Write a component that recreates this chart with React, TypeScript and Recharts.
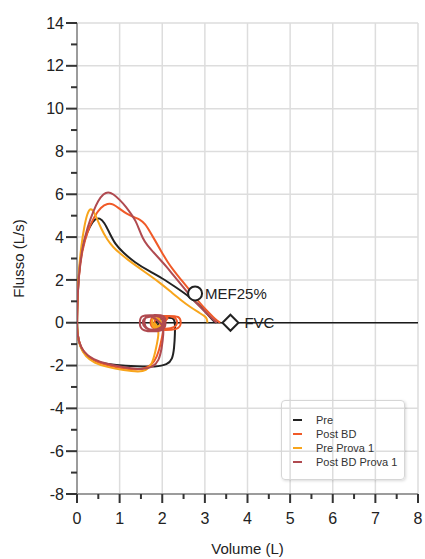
import React from 'react';
import {
  ScatterChart,
  Scatter,
  XAxis,
  YAxis,
  CartesianGrid,
  ReferenceLine,
  ReferenceDot,
  Legend,
} from 'recharts';

const X_TICKS = [0, 0.5, 1, 1.5, 2, 2.5, 3, 3.5, 4, 4.5, 5, 5.5, 6, 6.5, 7, 7.5, 8];
const Y_TICKS = [-8, -7, -6, -5, -4, -3, -2, -1, 0, 1, 2, 3, 4, 5, 6, 7, 8, 9, 10, 11, 12, 13, 14];
const X_GRID = [1, 2, 3, 4, 5, 6, 7, 8];
const Y_GRID = [-8, -6, -4, -2, 0, 2, 4, 6, 8, 10, 12, 14];

const SERIES_NAMES = ['Pre', 'Post BD', 'Pre Prova 1', 'Post BD Prova 1'];
const SERIES_COLORS = ['#222222', '#f05a28', '#f8a51c', '#b04a50'];

const PRE: [number, number][] = [
  [1.85, 0], [1.85, 0.09], [1.93, 0.09], [1.93, -0.09], [1.85, -0.09], [1.85, 0], [1.9, 0.1],
  [2.05, 0.24], [2.25, 0.24], [2.3, 0.1], [2.3, -0.5], [2.28, -1.2], [2.24, -1.7], [2.12, -1.96],
  [1.85, -2.06], [1.4, -2.04], [0.9, -1.98], [0.55, -1.88], [0.3, -1.68], [0.13, -1.35],
  [0.04, -0.9], [0.01, -0.4], [0, 0], [0.01, 1.0], [0.04, 2.3], [0.1, 3.3], [0.2, 4.05],
  [0.3, 4.5], [0.42, 4.86], [0.53, 4.9], [0.64, 4.7], [0.76, 4.2], [0.9, 3.65], [1.08, 3.28],
  [1.35, 2.82], [1.7, 2.4], [2.0, 2.08], [2.3, 1.68], [2.6, 1.27], [2.85, 0.86], [3.04, 0.45],
  [3.17, 0.15], [3.26, 0],
];

const POST_BD: [number, number][] = [
  [2.1, 0.32], [2.42, 0.32], [2.44, 0.0], [2.42, -0.36], [1.74, -0.36], [1.72, 0.0], [1.74, 0.32],
  [2.1, 0.32], [2.36, 0.27], [2.37, -0.3], [1.8, -0.3], [1.79, 0.27], [2.2, 0.27], [2.05, 0.1],
  [2.04, -0.2], [2.0, -0.65], [1.93, -1.28], [1.82, -1.85], [1.65, -2.12], [1.4, -2.22],
  [1.0, -2.12], [0.6, -1.95], [0.32, -1.68], [0.12, -1.3], [0.03, -0.8], [0, -0.3], [0, 0],
  [0.01, 1.0], [0.04, 2.2], [0.12, 3.4], [0.25, 4.3], [0.4, 4.95], [0.56, 5.4], [0.72, 5.58],
  [0.85, 5.55], [1.0, 5.32], [1.17, 5.08], [1.33, 4.93], [1.47, 4.84], [1.6, 4.62], [1.72, 4.22],
  [1.85, 3.78], [1.98, 3.32], [2.12, 2.85], [2.26, 2.46], [2.42, 2.06], [2.58, 1.68], [2.74, 1.28],
  [2.89, 0.9], [3.05, 0.55], [3.2, 0.25], [3.3, 0.07], [3.36, 0],
];

const PRE_PROVA_1: [number, number][] = [
  [1.76, 0.22], [1.98, 0.22], [1.99, -0.3], [1.76, -0.3], [1.76, 0.22], [1.8, 0.17], [1.95, 0.17],
  [1.95, -0.22], [1.8, -0.22], [1.8, 0.1], [1.92, -0.3], [1.91, -0.65], [1.84, -1.35], [1.76, -1.95],
  [1.62, -2.24], [1.45, -2.3], [1.1, -2.22], [0.7, -2.07], [0.4, -1.88], [0.2, -1.58], [0.07, -1.15],
  [0.01, -0.55], [0, 0], [0.01, 1.0], [0.04, 2.4], [0.1, 3.6], [0.17, 4.5], [0.24, 5.1], [0.31, 5.35],
  [0.38, 5.25], [0.46, 4.9], [0.56, 4.42], [0.7, 3.9], [0.85, 3.52], [1.0, 3.25], [1.2, 2.93],
  [1.4, 2.64], [1.7, 2.22], [1.95, 1.86], [2.2, 1.45], [2.42, 1.08], [2.65, 0.74], [2.89, 0.44],
  [3.0, 0.3], [3.05, 0.2], [3.06, 0],
];

const POST_BD_PROVA_1: [number, number][] = [
  [1.8, 0.36], [2.07, 0.36], [2.08, 0.0], [2.07, -0.42], [1.48, -0.42], [1.47, 0.0], [1.48, 0.36],
  [1.8, 0.36], [2.02, 0.3], [2.03, -0.35], [1.53, -0.35], [1.52, 0.3], [1.9, 0.3], [1.98, 0.33],
  [2.05, 0.33], [2.05, -0.38], [1.57, -0.38], [1.57, 0.33], [1.75, 0.33], [2.03, -0.1],
  [2.03, -0.5], [1.99, -1.2], [1.92, -1.78], [1.78, -2.08], [1.52, -2.2], [1.1, -2.08], [0.7, -1.93],
  [0.38, -1.72], [0.15, -1.38], [0.04, -0.9], [0, -0.35], [0, 0], [0.01, 1.0], [0.04, 2.2],
  [0.12, 3.5], [0.25, 4.5], [0.38, 5.2], [0.5, 5.72], [0.62, 6.02], [0.73, 6.12], [0.85, 6.02],
  [1.0, 5.75], [1.15, 5.42], [1.28, 5.05], [1.38, 4.75], [1.46, 4.35], [1.54, 3.95], [1.65, 3.6],
  [1.79, 3.3], [1.95, 2.95], [2.1, 2.62], [2.26, 2.22], [2.42, 1.84], [2.58, 1.45], [2.73, 1.06],
  [2.9, 0.72], [3.04, 0.44], [3.18, 0.17], [3.28, 0],
];

const MEF25 = { x: 2.77, y: 1.37, label: 'MEF25%' };
const FVC = { x: 3.6, y: 0, label: 'FVC' };

const SERIES_POINTS = [PRE, POST_BD, PRE_PROVA_1, POST_BD_PROVA_1];

const FONT = '"Liberation Sans", Arial, sans-serif';
const TEXT_COLOR = '#222';

const toData = (pts: [number, number][]) => pts.map(([x, y]) => ({ x, y }));

const NoShape = () => <g />;

const YTick = (props: any) => {
  const { x, y, payload } = props;
  const v = payload.value;
  const major = v % 2 === 0;
  return (
    <g>
      <line x1={x - (major ? 11 : 6)} x2={x} y1={y} y2={y} stroke="#333" strokeWidth={2} />
      {major && (
        <text x={x - 13} y={y} dy="0.35em" textAnchor="end" fontSize={16} fill={TEXT_COLOR} fontFamily={FONT}>
          {v}
        </text>
      )}
    </g>
  );
};

const XTick = (props: any) => {
  const { x, y, payload } = props;
  const v = payload.value;
  const major = Number.isInteger(v);
  return (
    <g>
      <line x1={x} x2={x} y1={y} y2={y + (major ? 9 : 5)} stroke="#333" strokeWidth={2} />
      {major && (
        <text x={x} y={y + 24} dy="0.35em" textAnchor="middle" fontSize={16} fill={TEXT_COLOR} fontFamily={FONT}>
          {v}
        </text>
      )}
    </g>
  );
};

const YTitle = (props: any) => {
  const vb = props.viewBox || { y: 23, height: 471 };
  const cx = 18;
  const cy = vb.y + vb.height / 2;
  return (
    <text
      x={cx}
      y={cy}
      transform={`rotate(-90 ${cx} ${cy})`}
      textAnchor="middle"
      dominantBaseline="central"
      fontSize={15}
      fill={TEXT_COLOR}
      fontFamily={FONT}
    >
      Flusso (L/s)
    </text>
  );
};

const XTitle = (props: any) => {
  const vb = props.viewBox || { x: 77, width: 341 };
  const cx = vb.x + vb.width / 2;
  return (
    <text x={cx} y={548} textAnchor="middle" dominantBaseline="central" fontSize={15} fill={TEXT_COLOR} fontFamily={FONT}>
      Volume (L)
    </text>
  );
};

const Diamond = (props: any) => {
  const { cx, cy } = props;
  const s = 8;
  return (
    <path
      d={`M${cx},${cy - s}L${cx + s},${cy}L${cx},${cy + s}L${cx - s},${cy}Z`}
      fill="#fff"
      stroke="#222"
      strokeWidth={2}
    />
  );
};

const renderLegend = () => (
  <div
    style={{
      border: '1px solid #d6d6d6',
      borderRadius: 4,
      boxShadow: '1px 1px 3px rgba(0,0,0,0.15)',
      width: 124,
      height: 80,
      boxSizing: 'border-box',
      padding: '12px 0 0 11px',
      fontFamily: FONT,
      fontSize: 11,
      color: '#333',
    }}
  >
    {SERIES_NAMES.map((n, i) => (
      <div key={n} style={{ display: 'flex', alignItems: 'center', height: 14 }}>
        <span
          style={{ display: 'inline-block', width: 9, height: 2, background: SERIES_COLORS[i], marginRight: 14 }}
        />
        <span>{n}</span>
      </div>
    ))}
  </div>
);

export default function App() {
  return (
    <div style={{ position: 'absolute', left: 0, top: 0, fontFamily: FONT }}>
      <ScatterChart width={425} height={559} margin={{ top: 23, right: 7, bottom: 0, left: 0 }}>
        <CartesianGrid
          stroke="#dddddd"
          strokeWidth={1.5}
          horizontalValues={Y_GRID}
          verticalValues={X_GRID}
        />
        <XAxis
          type="number"
          dataKey="x"
          domain={[0, 8]}
          ticks={X_TICKS}
          interval={0}
          height={65}
          tickSize={0}
          tickMargin={0}
          tickLine={false}
          axisLine={{ stroke: '#9c9c9c', strokeWidth: 2 }}
          tick={<XTick />}
          allowDataOverflow
          label={{ content: (p: any) => <XTitle {...p} /> }}
        />
        <YAxis
          type="number"
          dataKey="y"
          domain={[-8, 14]}
          ticks={Y_TICKS}
          interval={0}
          width={77}
          tickSize={0}
          tickMargin={0}
          tickLine={false}
          axisLine={{ stroke: '#9c9c9c', strokeWidth: 2 }}
          tick={<YTick />}
          allowDataOverflow
          label={{ content: (p: any) => <YTitle {...p} /> }}
        />
        <ReferenceLine y={0} stroke="#1a1a1a" strokeWidth={1.5} />
        {SERIES_POINTS.map((pts, i) => (
          <Scatter
            key={SERIES_NAMES[i]}
            name={SERIES_NAMES[i]}
            data={toData(pts)}
            fill="none"
            line={{ stroke: SERIES_COLORS[i], strokeWidth: 2 }}
            lineType="joint"
            lineJointType="basis"
            shape={<NoShape />}
            legendType="none"
            isAnimationActive={false}
          />
        ))}
        <ReferenceDot
          x={MEF25.x}
          y={MEF25.y}
          r={7}
          fill="#fff"
          stroke="#222"
          strokeWidth={2}
          label={{ value: MEF25.label, position: 'right', offset: 3, fontSize: 15, fill: TEXT_COLOR }}
        />
        <ReferenceDot
          x={FVC.x}
          y={FVC.y}
          r={8}
          shape={(p: any) => <Diamond {...p} />}
          label={{ value: FVC.label, position: 'right', offset: 6, fontSize: 15, fill: TEXT_COLOR }}
        />
        <Legend
          layout="vertical"
          align="center"
          verticalAlign="middle"
          content={renderLegend}
          wrapperStyle={{ left: 281, top: 400, width: 124 }}
        />
      </ScatterChart>
    </div>
  );
}
